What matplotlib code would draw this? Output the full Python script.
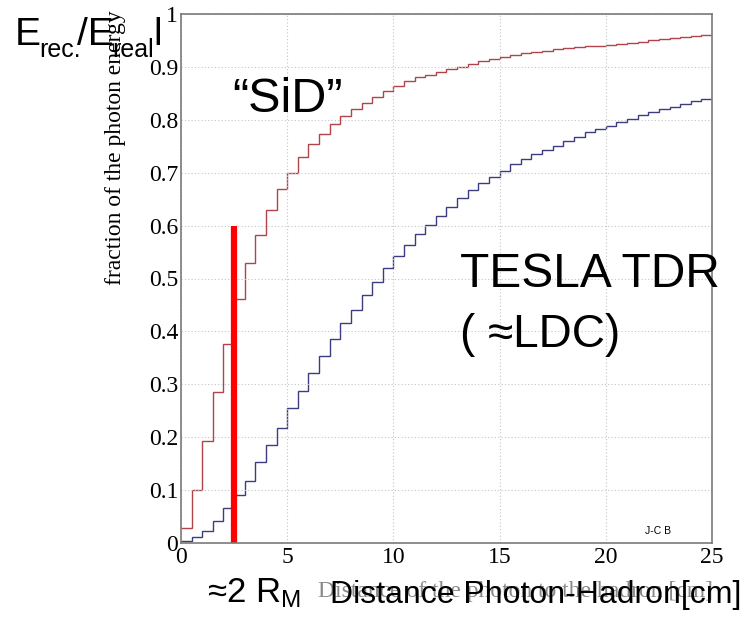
import numpy as np
import matplotlib
matplotlib.use('Agg')
import matplotlib.pyplot as plt

# cumulative fraction of the photon energy vs. distance photon-hadron (0.5 cm bins)
bin_edges = np.arange(0, 25.5, 0.5)

sid_frac = [0.028, 0.101, 0.193, 0.286, 0.377, 0.462, 0.529, 0.582, 0.629, 0.669,
            0.700, 0.730, 0.754, 0.774, 0.792, 0.807, 0.820, 0.832, 0.844, 0.854,
            0.864, 0.873, 0.880, 0.885, 0.891, 0.896, 0.900, 0.905, 0.911, 0.915,
            0.918, 0.922, 0.926, 0.929, 0.931, 0.934, 0.936, 0.938, 0.939, 0.940,
            0.942, 0.944, 0.946, 0.948, 0.951, 0.953, 0.955, 0.957, 0.958, 0.960]

tesla_frac = [0.004, 0.011, 0.023, 0.042, 0.066, 0.090, 0.117, 0.153, 0.185, 0.217,
              0.255, 0.288, 0.321, 0.354, 0.385, 0.415, 0.440, 0.469, 0.494, 0.520,
              0.543, 0.563, 0.584, 0.601, 0.619, 0.636, 0.652, 0.667, 0.681, 0.692,
              0.704, 0.716, 0.725, 0.735, 0.743, 0.751, 0.759, 0.767, 0.776, 0.783,
              0.789, 0.796, 0.802, 0.809, 0.815, 0.820, 0.825, 0.830, 0.835, 0.839]

x_ticks = [0, 5, 10, 15, 20, 25]
y_ticks = [0, 0.1, 0.2, 0.3, 0.4, 0.5, 0.6, 0.7, 0.8, 0.9, 1]
y_ticklabels = ['0', '0.1', '0.2', '0.3', '0.4', '0.5', '0.6', '0.7', '0.8', '0.9', '1']

# 2 Moliere radii marker
rm_x = 2.5
rm_top = 0.6

plt.rcParams['mathtext.fontset'] = 'custom'
plt.rcParams['mathtext.rm'] = 'Liberation Sans'
plt.rcParams['mathtext.it'] = 'Liberation Sans'

W, H = 745, 621
SANS = ['Liberation Sans', 'DejaVu Sans']
SERIF = ['Liberation Serif', 'DejaVu Serif']


def px(x, y):
    return x / W, 1 - y / H


def label(x, y, s, size, **kw):
    kw.setdefault('family', SANS)
    return fig.text(*px(x, y), s, fontsize=size, ha='left', va='baseline', **kw)


fig = plt.figure(figsize=(W / 100, H / 100), dpi=100)
ax = fig.add_axes([181 / W, 1 - 543 / H, (712 - 181) / W, (543 - 14) / H])

ax.stairs(sid_frac, bin_edges, baseline=None, color='#b0444a', lw=1.0)
ax.stairs(tesla_frac, bin_edges, baseline=None, color='#3c3c80', lw=1.0)
ax.plot([rm_x, rm_x], [0, rm_top], color='#ff0000', lw=4.5, solid_capstyle='butt')

ax.set_xlim(0, 25)
ax.set_ylim(0, 1)
ax.set_xticks(x_ticks)
ax.set_yticks(y_ticks)
ax.set_yticklabels(y_ticklabels)
ax.tick_params(length=0, labelsize=17)
ax.tick_params(axis='x', pad=3)
ax.tick_params(axis='y', pad=2)
for lab in ax.get_xticklabels() + ax.get_yticklabels():
    lab.set_family(SERIF)
ax.grid(True, linestyle=(0, (1, 2)), color='#c4c4c4', lw=0.8)
for s in ax.spines.values():
    s.set_color('#7a7a7a')
    s.set_linewidth(1.2)

# y axis title
fig.text(*px(116, 148), 'fraction of the photon energy', rotation=90,
         family=SERIF, fontsize=17, ha='center', va='center')

# E_rec./E_real label, built piece by piece
label(15, 45, 'E', 28)
label(39, 57, 'rec.', 18)
label(77, 45, '/E', 28)
label(112, 57, 'real', 18)
label(153, 45, 'l', 28)

label(232, 112, '\u201cSiD\u201d', 35)
label(460, 287, 'TESLA TDR', 34.5)
label(460, 347, '( \u2248LDC)', 33)

# x axis title (old serif title sits underneath)
label(318, 597, 'Distance of the photon to the hadron [cm]', 17,
      family=SERIF, color='#8a8a8a')
label(330, 603, 'Distance Photon-Hadron[cm]', 23)
label(207, 602, '\u2248' + r'2 $\mathrm{R_M}$', 25)

fig.text(*px(658, 531), 'J-C B', family=SANS, fontsize=7.5, ha='center', va='center')

fig.savefig('out.png', dpi=100)
